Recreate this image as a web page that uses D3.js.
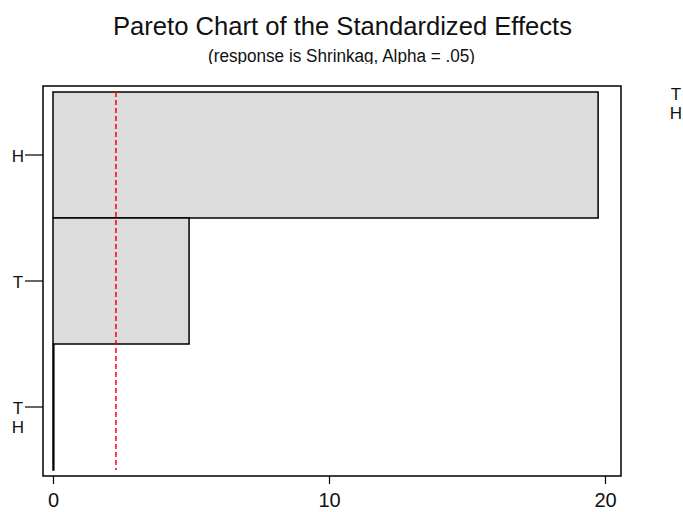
<!DOCTYPE html>
<html>
<head>
  <meta charset="utf-8">
  <script src="https://cdn.jsdelivr.net/npm/d3@7"></script>
  <style>
    body { margin: 0; background: #fff; }
    text { font-family: "Liberation Sans", Arial, sans-serif; fill: #111; }
  </style>
</head>
<body>
<script>
  // effect terms, top to bottom (TH drawn as a stacked label)
  var terms = ["H", "T", "TH"];
  var effects = [19.75, 4.93, 0.03];
  var xTicks = [0, 10, 20];
  var critical = 2.28;

  var width = 683, height = 512;
  var svg = d3.select("body").append("svg")
      .attr("width", width)
      .attr("height", height);

  // frame and plotting area
  var frame = {left: 43, top: 86, right: 621, bottom: 476};
  var x = d3.scaleLinear().domain([0, 20]).range([53, 605]);
  var y = d3.scaleBand().domain(terms).range([92, 470]).padding(0);

  svg.append("text")
      .attr("x", 113).attr("y", 35)
      .attr("textLength", 459).attr("lengthAdjust", "spacingAndGlyphs")
      .style("font-size", "26px")
      .text("Pareto Chart of the Standardized Effects");

  // subtitle is cut off at the bottom in the original
  svg.append("clipPath").attr("id", "subclip")
    .append("rect").attr("x", 0).attr("y", 30).attr("width", width).attr("height", 34);
  svg.append("text")
      .attr("clip-path", "url(#subclip)")
      .attr("x", 208).attr("y", 62)
      .attr("textLength", 267).attr("lengthAdjust", "spacingAndGlyphs")
      .style("font-size", "18px")
      .text("(response is Shrinkag, Alpha = .05)");

  // bars
  svg.selectAll("rect.bar")
      .data(effects)
    .enter().append("rect")
      .attr("class", "bar")
      .attr("x", x(0))
      .attr("y", function(d, i) { return y(terms[i]); })
      .attr("width", function(d) { return x(d) - x(0); })
      .attr("height", y.bandwidth())
      .style("fill", "#dcdcdc")
      .style("stroke", "#000")
      .style("stroke-width", 1.5);

  // reference line
  svg.append("line")
      .attr("x1", x(critical)).attr("x2", x(critical))
      .attr("y1", y.range()[0]).attr("y2", y.range()[1])
      .style("stroke", "#ff0000")
      .style("stroke-width", 1.5)
      .style("stroke-dasharray", "5,3");

  svg.append("rect")
      .attr("x", frame.left).attr("y", frame.top)
      .attr("width", frame.right - frame.left)
      .attr("height", frame.bottom - frame.top)
      .style("fill", "none")
      .style("stroke", "#000")
      .style("stroke-width", 1.5);

  // x axis
  var xAxis = svg.append("g")
      .attr("transform", "translate(0," + frame.bottom + ")")
      .call(d3.axisBottom(x).tickValues(xTicks).tickSize(8).tickPadding(9));
  xAxis.select(".domain").remove();
  xAxis.selectAll("line").style("stroke", "#000").style("stroke-width", 1.2);
  xAxis.selectAll("text")
      .style("font-size", "20px")
      .style("font-family", "\"Liberation Sans\", Arial, sans-serif")
      .style("fill", "#111");

  // y axis with stacked labels
  var yAxis = svg.append("g")
      .attr("transform", "translate(" + frame.left + ",0)")
      .call(d3.axisLeft(y).tickSize(18).tickFormat(""));
  yAxis.select(".domain").remove();
  yAxis.selectAll("line").style("stroke", "#000").style("stroke-width", 1.2);

  terms.forEach(function(t) {
    var cy = y(t) + y.bandwidth() / 2;
    var parts = t.split("");
    var g = svg.append("text")
        .attr("x", 18)
        .attr("text-anchor", "middle")
        .style("font-size", "17px");
    if (parts.length === 1) {
      g.attr("y", cy + 7).text(t);
    } else {
      g.append("tspan").attr("x", 18).attr("y", cy + 7).text(parts[0]);
      g.append("tspan").attr("x", 18).attr("y", cy + 26).text(parts[1]);
    }
  });

  // clipped label at the right edge
  var side = svg.append("text")
      .attr("x", 676)
      .attr("text-anchor", "middle")
      .style("font-size", "17px");
  side.append("tspan").attr("x", 676).attr("y", 100).text("T");
  side.append("tspan").attr("x", 676).attr("y", 119).text("H");
</script>
</body>
</html>
